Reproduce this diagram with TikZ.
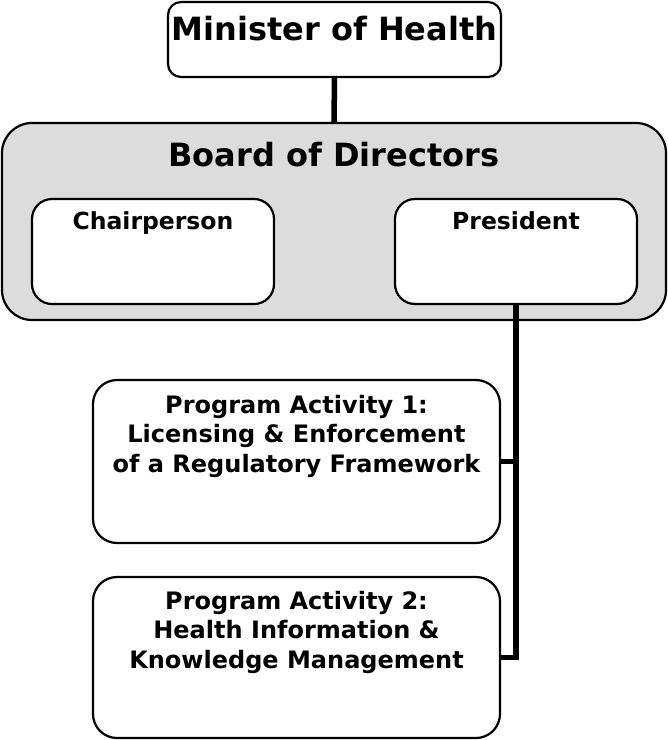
\documentclass[tikz,border=0pt]{standalone}
\usepackage{fontspec}
\setmainfont{DejaVu Sans}
\definecolor{boardgray}{RGB}{220,220,220}
\begin{document}
\begin{tikzpicture}[x=1pt, y=-1pt,
  box/.style={draw, line width=2.2pt, fill=white, inner sep=0pt},
  link/.style={line width=5.5pt},
  big/.style={font=\bfseries\fontsize{32}{36}\selectfont, anchor=base},
  mid/.style={font=\bfseries\fontsize{23.5}{28}\selectfont, anchor=base},
  small/.style={font=\bfseries\fontsize{24}{29.5}\selectfont, align=center, anchor=base}]
\useasboundingbox (0,0) rectangle (668,740);

\node[box, rounded corners=13pt, minimum width=333pt, minimum height=75pt] (minister) at (334.5,39.5) {};
\node[box, rounded corners=30pt, fill=boardgray, minimum width=664pt, minimum height=197pt] (board) at (334,221.5) {};
\node[box, rounded corners=20pt, minimum width=242pt, minimum height=105pt] (chair) at (153,251.5) {};
\node[box, rounded corners=20pt, minimum width=242pt, minimum height=105pt] (pres) at (516,251.5) {};
\node[box, rounded corners=24pt, minimum width=407pt, minimum height=163pt] (pa1) at (296.5,461.5) {};
\node[box, rounded corners=24pt, minimum width=407pt, minimum height=161pt] (pa2) at (296.5,657.5) {};

\node[big] (tminister) at (334.5,40) {Minister of Health};
\node[big] (tboard) at (334,166) {Board of Directors};
\node[mid] (tchair) at (153,229) {Chairperson};
\node[mid] (tpres) at (516,229) {President};
\node[small] (tpa1) at (296.5,472) {Program Activity 1:\\Licensing \& Enforcement\\of a Regulatory Framework};
\node[small] (tpa2) at (296.5,668) {Program Activity 2:\\Health Information \&\\Knowledge Management};

\draw[link] (minister.south) -- (board.north);
\draw[link] (pres.south) |- (pa2.east);
\draw[link] (pa1.east) -- (pa1.east -| pres.south);
\end{tikzpicture}
\end{document}
